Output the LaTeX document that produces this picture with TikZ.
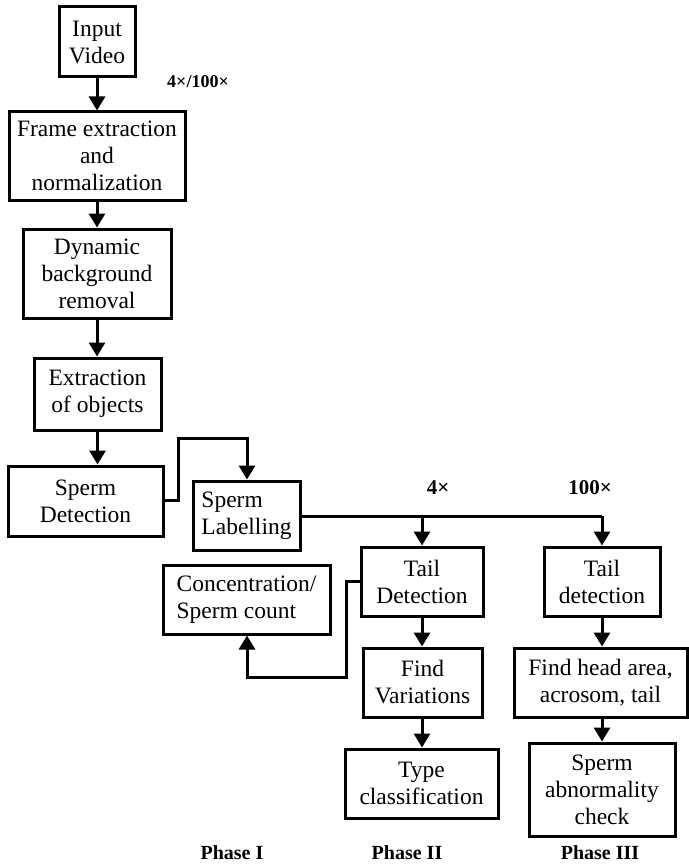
\documentclass[tikz,border=0pt]{standalone}
\usepackage{fontspec}
\setmainfont{Liberation Serif}
\usetikzlibrary{arrows.meta}
\begin{document}
\begin{tikzpicture}[x=1pt,y=-1pt,
  box/.style={draw,line width=3pt,align=center,inner sep=0pt,
    font=\fontsize{23.5}{27}\selectfont},
  conn/.style={line width=3pt,-{Triangle[width=16pt,length=14pt]}},
  lbl/.style={font=\bfseries\fontsize{20}{22}\selectfont,inner sep=0pt},
  maglbl/.style={font=\bfseries\fontsize{21}{23}\selectfont,inner sep=0pt},
  smalllbl/.style={font=\bfseries\fontsize{18}{20}\selectfont,inner sep=0pt}]
\useasboundingbox (0,0) rectangle (688,864);
\node[box,minimum width=76,minimum height=70] (inp) at (97,42) {Input\\Video};
\node[box,minimum width=176,minimum height=88] (frame) at (97,156) {Frame extraction\\and\\normalization};
\node[box,minimum width=148,minimum height=89] (dyn) at (97,273.5) {Dynamic\\background\\removal};
\node[box,minimum width=127,minimum height=72] (ext) at (97.5,394) {Extraction\\of objects};
\node[box,minimum width=155,minimum height=70] (det) at (85.5,501) {Sperm\\Detection};
\node[box,minimum width=107,minimum height=69,align=left] (lab) at (246.5,515.5) {Sperm\\Labelling};
\node[box,minimum width=167,minimum height=69,align=left] (conc) at (246.5,599.5) {Concentration/\\Sperm count};
\node[box,minimum width=122,minimum height=69] (tail2) at (422,581.5) {Tail\\Detection};
\node[box,minimum width=119,minimum height=69] (var) at (422.5,682.5) {Find\\Variations};
\node[box,minimum width=153,minimum height=69] (type) at (421.5,783.5) {Type\\classification};
\node[box,minimum width=116,minimum height=69] (tail3) at (602,581.5) {Tail\\detection};
\node[box,minimum width=173,minimum height=69] (head) at (600.5,682.5) {Find head area,\\acrosom, tail};
\node[box,minimum width=146,minimum height=93] (abn) at (602,789.5) {Sperm\\abnormality\\check};

\node[smalllbl] (mag) at (198,82) {4×/100×};
\node[maglbl] (m4) at (438,488) {4×};
\node[maglbl] (m100) at (590,488) {100×};
\node[lbl] (p1) at (232,853) {Phase I};
\node[lbl] (p2) at (407,853) {Phase II};
\node[lbl] (p3) at (600,853) {Phase III};

\coordinate (j1) at (178,500);
\coordinate (j2) at (178,438);
\coordinate (j3) at (247,438);
\coordinate (b4) at (422,516);
\coordinate (b100) at (602,516);
\coordinate (c1) at (346,581);
\coordinate (c2) at (346,677);
\coordinate (c3) at (247,677);

\draw[conn] (inp.south) -- (inp.south |- frame.north);
\draw[conn] (frame.south) -- (frame.south |- dyn.north);
\draw[conn] (dyn.south) -- (dyn.south |- ext.north);
\draw[conn] (ext.south) -- (ext.south |- det.north);
\draw[conn] (det.east |- j1) -- (j1) -- (j2) -- (j3) -- (lab.north -| j3);
\draw[line width=3pt] (lab.east |- b4) -- (b100);
\draw[conn] (b4) -- (tail2.north -| b4);
\draw[conn] (b100) -- (tail3.north -| b100);
\draw[conn] (tail2.west |- c1) -- (c1) -- (c2) -- (c3) -- (conc.south -| c3);
\draw[conn] (tail2.south) -- (tail2.south |- var.north);
\draw[conn] (tail2.south |- var.south) -- (tail2.south |- type.north);
\draw[conn] (tail3.south) -- (tail3.south |- head.north);
\draw[conn] (tail3.south |- head.south) -- (tail3.south |- abn.north);
\end{tikzpicture}
\end{document}
